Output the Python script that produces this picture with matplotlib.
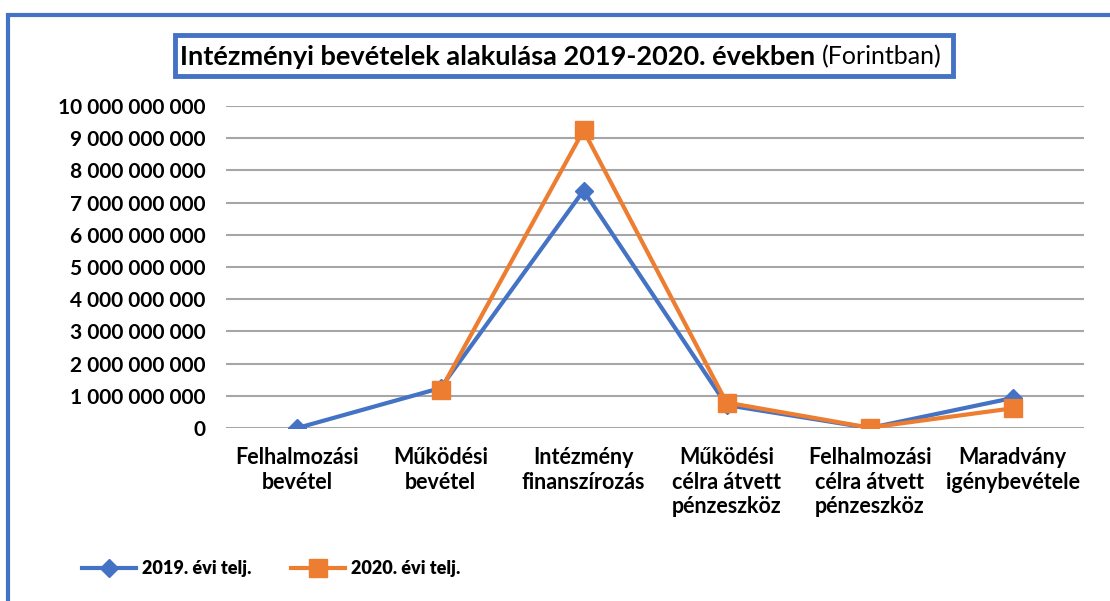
import numpy as np
import matplotlib.pyplot as plt
from matplotlib.patches import Rectangle
from matplotlib.ticker import FuncFormatter

plt.rcParams['font.family'] = ['Lato', 'DejaVu Sans']

categories = ['Felhalmozási\nbevétel', 'Működési\nbevétel', 'Intézmény\nfinanszírozás',
              'Működési\ncélra átvett\npénzeszköz', 'Felhalmozási\ncélra átvett\npénzeszköz',
              'Maradvány\nigénybevétele']
vals_2019 = [0, 1.24e9, 7.37e9, 0.71e9, 0.0, 0.93e9]
vals_2020 = [np.nan, 1.17e9, 9.24e9, 0.79e9, 0.01e9, 0.61e9]

blue = '#4472C4'
orange = '#ED7D31'

fig = plt.figure(figsize=(11.1, 6.01), dpi=100)
ax = fig.add_axes([0.2036, 0.2879, 0.773, 0.5358])

x = np.arange(len(categories))
ax.plot(x, vals_2019, color=blue, lw=3, marker='D', ms=9, label='2019. évi telj.', zorder=3)
ax.plot(x, vals_2020, color=orange, lw=3, marker='s', ms=12.5, label='2020. évi telj.', zorder=4)

ax.set_xlim(-0.5, len(categories) - 0.5)
ax.set_ylim(0, 10e9)
ax.set_yticks(np.arange(0, 10.5e9, 1e9))
ax.yaxis.set_major_formatter(FuncFormatter(lambda v, p: f'{int(round(v)):,}'.replace(',', ' ')))
ax.set_xticks(x)
ax.set_xticklabels(categories, fontsize=15.5, fontweight='bold', linespacing=1.2)
for lab in ax.get_yticklabels():
    lab.set_fontweight('bold')
    lab.set_fontsize(15)
ax.tick_params(axis='y', length=0, pad=15)
ax.tick_params(axis='x', length=0, pad=14)
ax.grid(axis='y', color='#A6A6A6', lw=1.5)
ax.set_axisbelow(True)
for s in ax.spines.values():
    s.set_visible(False)

leg = ax.legend(loc='lower left', bbox_to_anchor=(0.066, 0.025), bbox_transform=fig.transFigure,
                ncol=2, frameon=False, borderpad=0, handlelength=3.0, columnspacing=2.2,
                handletextpad=0.3, fontsize=13)
for t in leg.get_texts():
    t.set_fontweight('heavy')

fig.text(0.734, 0.905, 'Intézményi bevételek alakulása 2019-2020. években', ha='right', va='center',
         fontsize=19.5, fontweight='bold')
fig.text(0.7405, 0.905, '(Forintban)', ha='left', va='center', fontsize=18)
fig.patches.append(Rectangle((0.1577, 0.8735), 0.7009, 0.068, transform=fig.transFigure,
                             fill=False, edgecolor=blue, lw=3.5))
fig.patches.append(Rectangle((0.0075, -0.1), 1.1, 1.075, transform=fig.transFigure,
                             fill=False, edgecolor=blue, lw=3))

fig.savefig('out.png', dpi=100)
